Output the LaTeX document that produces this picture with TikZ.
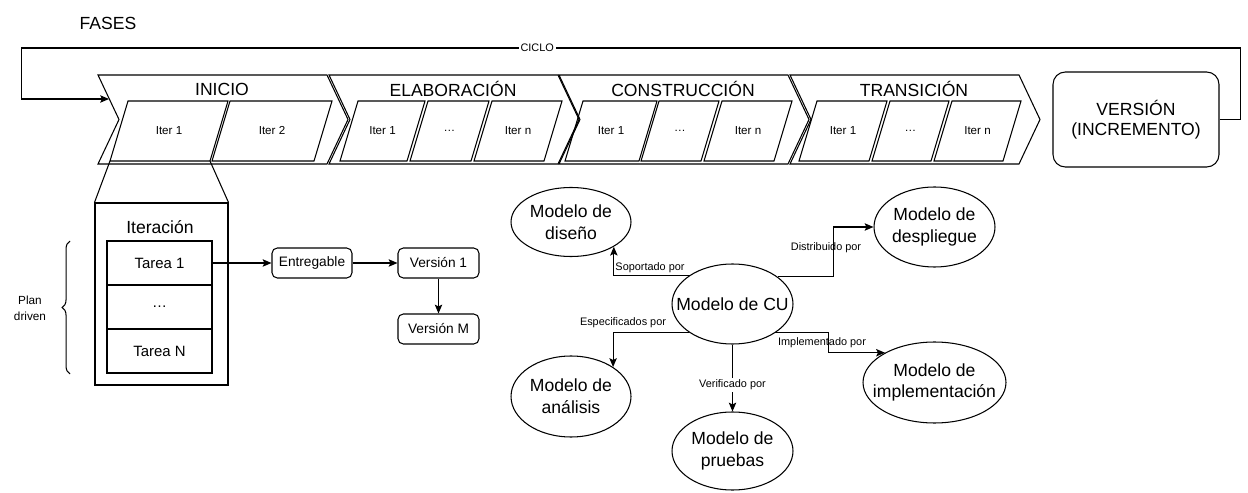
\documentclass[tikz,border=0pt]{standalone}
\usepackage{fontspec}
\setmainfont{Liberation Sans}
\usetikzlibrary{shapes.geometric, decorations.pathreplacing, arrows.meta, positioning}

\begin{document}
\begin{tikzpicture}[x=0.02cm, y=-0.02cm, line width=0.6pt, >={Stealth[length=5pt, width=4.2pt, inset=1pt]},
  fasetxt/.style={font=\fontsize{10}{12}\selectfont},
  itertxt/.style={font=\fontsize{6.6}{8}\selectfont},
  tarea/.style={rectangle, draw, minimum width=2.1cm, minimum height=0.88cm, font=\fontsize{8.5}{10}\selectfont},
  caja/.style={rectangle, rounded corners=3pt, draw, minimum width=1.6cm, minimum height=0.6cm, font=\fontsize{7.8}{9}\selectfont},
  modelo/.style={ellipse, draw, inner sep=0pt},
  modtxt/.style={font=\fontsize{10}{12.3}\selectfont, align=center},
  etq/.style={font=\fontsize{6.2}{7.5}\selectfont, inner sep=1pt}]

  \useasboundingbox (0,0) rectangle (1248,493);

  \node[fasetxt] (fases) at (108,23) {FASES};

  % Phases as chevrons, each with its title
  \foreach \x/\nm/\lbl in {98/inicio/INICIO, 329/elab/ELABORACIÓN, 559/cons/CONSTRUCCIÓN, 790/trans/TRANSICIÓN} {
    \draw (\x,75) -- ++(229,0) -- ++(21,44.5) -- ++(-21,44.5) -- ++(-229,0) -- ++(21,-44.5) -- cycle;
    \node[fasetxt] (\nm) at (\x+124,89) {\lbl};
  }

  % Iterations inside each phase
  \foreach \tl/\w/\nm/\lbl in {128/100/i1/Iter 1, 230/102/i2/Iter 2,
      358/67/e1/Iter 1, 428/61/e2/\dots, 492/70/e3/Iter n,
      583/74/c1/Iter 1, 659/60/c2/\dots, 722/70/c3/Iter n,
      817/70/t1/Iter 1, 890/59/t2/\dots, 952/69/t3/Iter n} {
    \draw (\tl,101) -- ++(\w,0) -- ++(-18,60) -- ++(-\w,0) -- cycle;
    \coordinate (\nm-bl) at (\tl-18,161);
    \coordinate (\nm-br) at (\tl+\w-18,161);
    \node[itertxt] (\nm) at (\tl+\w/2-9,131) {\lbl};
  }

  % Release box and the cycle back to the first phase
  \node[rectangle, rounded corners=7pt, draw, minimum width=3.32cm, minimum height=1.9cm,
    align=center, font=\fontsize{10}{11.5}\selectfont] (version) at (1136,119.5) {VERSIÓN\\(INCREMENTO)};
  \coordinate (entrada) at (109,99);
  \draw[->] (version.east) -- ++(21,0) -- ++(0,-71.5)
    -- node[pos=0.577, etq, fill=white] (ciclo) {CICLO} ++(-1219,0) -- ++(0,51) -- (entrada);

  % Zoom on the first iteration
  \node[rectangle, draw, minimum width=2.66cm, minimum height=3.64cm] (iter) at (161.5,294) {};
  \node[fasetxt] (itertitle) at (160,227) {Iteración};
  \draw (i1-bl) -- (iter.north west);
  \draw (i1-br) -- (iter.north east);

  \node[tarea] (tarea1) at (159.5,263) {Tarea 1};
  \node[tarea] (tareaM) at (159.5,307) {…};
  \node[tarea] (tareaN) at (159.5,351) {Tarea N};

  \draw[decorate, decoration={brace, amplitude=4.5pt}] (70,374) -- (70,241);
  \node[etq, align=center, font=\fontsize{6.7}{9}\selectfont] (plan) at (30,308) {Plan\\driven};

  % Deliverables
  \node[caja] (entregable) at (312,263) {Entregable};
  \node[caja, minimum width=1.62cm] (version1) at (438.5,263) {Versión 1};
  \node[caja, minimum width=1.62cm] (versionM) at (438.5,329) {Versión M};

  \draw[->] (tarea1) -- (entregable);
  \draw[->] (entregable) -- (version1);
  \draw[->] (version1) -- (versionM);

  % Models around the use case model
  \node[modelo, minimum width=2.42cm, minimum height=1.6cm, label={[modtxt]center:Modelo de CU}] (cu) at (732.5,304) {};
  \node[modelo, minimum width=2.4cm, minimum height=1.38cm, label={[modtxt]center:Modelo de\\diseño}] (diseno) at (571,222) {};
  \node[modelo, minimum width=2.42cm, minimum height=1.6cm, label={[modtxt]center:Modelo de\\despliegue}] (despliegue) at (934.5,227) {};
  \node[modelo, minimum width=2.4cm, minimum height=1.62cm, label={[modtxt]center:Modelo de\\análisis}] (analisis) at (571,396.5) {};
  \node[modelo, minimum width=2.42cm, minimum height=1.56cm, label={[modtxt]center:Modelo de\\pruebas}] (pruebas) at (732.5,451) {};
  \node[modelo, minimum width=2.86cm, minimum height=1.62cm, label={[modtxt]center:Modelo de\\implementación}] (impl) at (934.5,382.5) {};

  \draw[->] (cu.146) -| (diseno.-30);
  \draw[->] (cu.31) -- ++(56,0) |- (despliegue.west);
  \draw[->] (cu.213) -| (analisis.35);
  \draw[->] (cu.-34) -- ++(53,0) |- (impl.149);
  \draw[->] (cu.south) -- (pruebas.north);

  \node[etq] (soportado) at (650,268) {Soportado por};
  \node[etq] (distribuido) at (826,248) {Distribuido por};
  \node[etq] (especificados) at (623,323) {Especificados por};
  \node[etq] (implementado) at (822,343) {Implementado por};
  \node[etq, fill=white] (verificado) at (732.5,385) {Verificado por};

\end{tikzpicture}
\end{document}
